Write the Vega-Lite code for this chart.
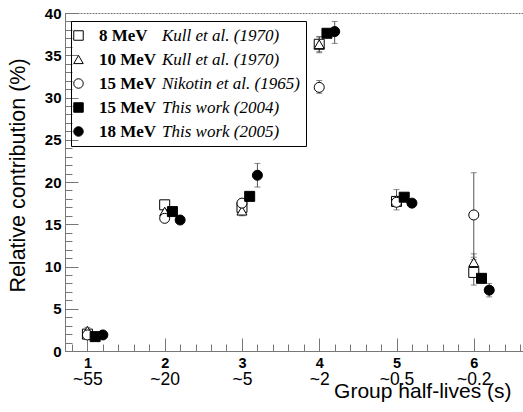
{
  "$schema": "https://vega.github.io/schema/vega-lite/v6.json",
  "width": 459,
  "height": 338,
  "autosize": {"type": "none"},
  "padding": {"left": 65, "top": 13, "right": 0, "bottom": 61},
  "background": "white",
  "view": {"stroke": "#777777", "strokeDash": [2, 1], "strokeWidth": 1},
  "config": {"font": "Liberation Sans", "axis": {"grid": false}},
  "data": {
    "values": [
      {"series": "8 MeV Kull et al. (1970)", "x": 1.0, "value": 2.0, "lo": 1.7, "hi": 2.3},
      {"series": "10 MeV Kull et al. (1970)", "x": 1.0, "value": 2.4, "lo": 2.0, "hi": 2.8},
      {"series": "15 MeV Nikotin et al. (1965)", "x": 1.0, "value": 1.9, "lo": 1.6, "hi": 2.2},
      {"series": "15 MeV This work (2004)", "x": 1.1, "value": 1.7, "lo": 1.5, "hi": 1.9},
      {"series": "18 MeV This work (2005)", "x": 1.2, "value": 1.9, "lo": 1.7, "hi": 2.1},

      {"series": "8 MeV Kull et al. (1970)", "x": 2.0, "value": 17.3, "lo": 16.9, "hi": 17.7},
      {"series": "10 MeV Kull et al. (1970)", "x": 2.0, "value": 16.5, "lo": 16.0, "hi": 17.0},
      {"series": "15 MeV Nikotin et al. (1965)", "x": 2.0, "value": 15.7, "lo": 15.3, "hi": 16.1},
      {"series": "15 MeV This work (2004)", "x": 2.1, "value": 16.5, "lo": 16.2, "hi": 16.8},
      {"series": "18 MeV This work (2005)", "x": 2.2, "value": 15.5, "lo": 15.2, "hi": 15.8},

      {"series": "8 MeV Kull et al. (1970)", "x": 3.0, "value": 17.0, "lo": 16.6, "hi": 17.4},
      {"series": "10 MeV Kull et al. (1970)", "x": 3.0, "value": 16.6, "lo": 16.0, "hi": 17.2},
      {"series": "15 MeV Nikotin et al. (1965)", "x": 3.0, "value": 17.5, "lo": 17.1, "hi": 17.9},
      {"series": "15 MeV This work (2004)", "x": 3.1, "value": 18.3, "lo": 18.0, "hi": 18.6},
      {"series": "18 MeV This work (2005)", "x": 3.2, "value": 20.8, "lo": 19.4, "hi": 22.2},

      {"series": "8 MeV Kull et al. (1970)", "x": 4.0, "value": 36.3, "lo": 35.4, "hi": 37.2},
      {"series": "10 MeV Kull et al. (1970)", "x": 4.0, "value": 36.3, "lo": 35.3, "hi": 37.2},
      {"series": "15 MeV Nikotin et al. (1965)", "x": 4.0, "value": 31.2, "lo": 30.5, "hi": 32.0},
      {"series": "15 MeV This work (2004)", "x": 4.1, "value": 37.6, "lo": 37.2, "hi": 38.0},
      {"series": "18 MeV This work (2005)", "x": 4.2, "value": 37.8, "lo": 36.4, "hi": 39.0},

      {"series": "8 MeV Kull et al. (1970)", "x": 5.0, "value": 17.7, "lo": 17.3, "hi": 18.1},
      {"series": "10 MeV Kull et al. (1970)", "x": 5.0, "value": 17.9, "lo": 16.7, "hi": 19.1},
      {"series": "15 MeV Nikotin et al. (1965)", "x": 5.0, "value": 17.6, "lo": 17.2, "hi": 18.0},
      {"series": "15 MeV This work (2004)", "x": 5.1, "value": 18.2, "lo": 17.9, "hi": 18.5},
      {"series": "18 MeV This work (2005)", "x": 5.2, "value": 17.5, "lo": 17.2, "hi": 17.8},

      {"series": "8 MeV Kull et al. (1970)", "x": 6.0, "value": 9.3, "lo": 7.8, "hi": 10.8},
      {"series": "10 MeV Kull et al. (1970)", "x": 6.0, "value": 10.5, "lo": 9.5, "hi": 11.5},
      {"series": "15 MeV Nikotin et al. (1965)", "x": 6.0, "value": 16.1, "lo": 11.1, "hi": 21.1},
      {"series": "15 MeV This work (2004)", "x": 6.1, "value": 8.6, "lo": 8.1, "hi": 9.1},
      {"series": "18 MeV This work (2005)", "x": 6.2, "value": 7.2, "lo": 6.4, "hi": 8.0}
    ]
  },
  "layer": [
    {
      "mark": {"type": "errorbar", "ticks": {"size": 6}, "color": "#555555", "thickness": 1},
      "encoding": {
        "x": {
          "field": "x", "type": "quantitative",
          "scale": {"domain": [0.71, 6.65], "nice": false, "zero": false},
          "axis": {
            "orient": "bottom",
            "values": [0.8, 1.0, 1.2, 1.4, 1.6, 1.8, 2.0, 2.2, 2.4, 2.6, 2.8, 3.0, 3.2, 3.4, 3.6, 3.8, 4.0, 4.2, 4.4, 4.6, 4.8, 5.0, 5.2, 5.4, 5.6, 5.8, 6.0, 6.2, 6.4, 6.6],
            "labels": false, "domain": false, "tickSize": -7, "tickColor": "#777777", "title": null
          }
        },
        "y": {
          "field": "lo", "type": "quantitative",
          "scale": {"domain": [0, 40], "nice": false, "zero": false},
          "axis": {
            "orient": "left",
            "values": [0, 1, 2, 3, 4, 5, 6, 7, 8, 9, 10, 11, 12, 13, 14, 15, 16, 17, 18, 19, 20, 21, 22, 23, 24, 25, 26, 27, 28, 29, 30, 31, 32, 33, 34, 35, 36, 37, 38, 39, 40],
            "labels": false, "domain": false, "tickSize": -7, "tickColor": "#777777", "title": null
          }
        },
        "y2": {"field": "hi"}
      }
    },
    {
      "mark": {"type": "point", "size": 100, "stroke": "black", "strokeWidth": 1, "opacity": 1},
      "encoding": {
        "x": {
          "field": "x", "type": "quantitative",
          "scale": {"domain": [0.71, 6.65], "nice": false, "zero": false},
          "axis": {
            "orient": "bottom", "values": [1, 2, 3, 4, 5, 6], "labels": false,
            "tickSize": -13, "tickColor": "#777777", "domainColor": "#777777", "title": null
          }
        },
        "y": {
          "field": "value", "type": "quantitative",
          "scale": {"domain": [0, 40], "nice": false, "zero": false},
          "axis": {
            "orient": "left", "values": [0, 5, 10, 15, 20, 25, 30, 35, 40], "labels": false,
            "tickSize": -13, "tickColor": "#777777", "domainColor": "#777777", "title": null
          }
        },
        "shape": {
          "field": "series", "type": "nominal",
          "scale": {
            "domain": ["8 MeV Kull et al. (1970)", "10 MeV Kull et al. (1970)", "15 MeV Nikotin et al. (1965)", "15 MeV This work (2004)", "18 MeV This work (2005)"],
            "range": ["square", "triangle-up", "circle", "square", "circle"]
          },
          "legend": {
            "orient": "none", "legendX": 5, "legendY": 14, "title": null,
            "values": ["8 MeV Kull et al. (1970)", "10 MeV Kull et al. (1970)", "15 MeV Nikotin et al. (1965)", "15 MeV This work (2004)", "18 MeV This work (2005)"],
            "labelExpr": "slice(datum.value, 0, indexof(datum.value, 'MeV') + 3)",
            "labelFont": "Liberation Serif", "labelFontSize": 17, "labelFontWeight": "bold", "labelColor": "black",
            "labelOffset": 12, "padding": 0, "rowPadding": 6, "symbolSize": 90, "symbolStrokeWidth": 1,
            "labelLimit": 300
          }
        },
        "fill": {
          "field": "series", "type": "nominal",
          "scale": {
            "domain": ["8 MeV Kull et al. (1970)", "10 MeV Kull et al. (1970)", "15 MeV Nikotin et al. (1965)", "15 MeV This work (2004)", "18 MeV This work (2005)"],
            "range": ["white", "white", "white", "black", "black"]
          },
          "legend": {
            "orient": "none", "legendX": 5, "legendY": 14, "title": null,
            "values": ["8 MeV Kull et al. (1970)", "10 MeV Kull et al. (1970)", "15 MeV Nikotin et al. (1965)", "15 MeV This work (2004)", "18 MeV This work (2005)"],
            "labelExpr": "slice(datum.value, 0, indexof(datum.value, 'MeV') + 3)",
            "labelFont": "Liberation Serif", "labelFontSize": 17, "labelFontWeight": "bold", "labelColor": "black",
            "labelOffset": 12, "padding": 0, "rowPadding": 6, "symbolSize": 90, "symbolStrokeWidth": 1,
            "labelLimit": 300
          }
        },
        "stroke": {
          "field": "series", "type": "nominal",
          "scale": {
            "domain": ["8 MeV Kull et al. (1970)", "10 MeV Kull et al. (1970)", "15 MeV Nikotin et al. (1965)", "15 MeV This work (2004)", "18 MeV This work (2005)"],
            "range": ["black", "black", "black", "black", "black"]
          },
          "legend": {
            "orient": "none", "legendX": 5, "legendY": 14, "title": null,
            "values": ["8 MeV Kull et al. (1970)", "10 MeV Kull et al. (1970)", "15 MeV Nikotin et al. (1965)", "15 MeV This work (2004)", "18 MeV This work (2005)"],
            "labelExpr": "slice(datum.value, 0, indexof(datum.value, 'MeV') + 3)",
            "labelFont": "Liberation Serif", "labelFontSize": 17, "labelFontWeight": "bold", "labelColor": "black",
            "labelOffset": 12, "padding": 0, "rowPadding": 6, "symbolSize": 90, "symbolStrokeWidth": 1,
            "labelLimit": 300
          }
        }
      }
    },
    {
      "mark": {"type": "point", "size": 100, "opacity": 0},
      "encoding": {
        "x": {
          "field": "x", "type": "quantitative",
          "scale": {"domain": [0.71, 6.65], "nice": false, "zero": false},
          "axis": {
            "orient": "bottom", "values": [1, 2, 3, 4, 5, 6], "format": "d",
            "labelFont": "Liberation Sans", "labelFontSize": 14.5, "labelFontWeight": "bold", "labelColor": "black",
            "labelPadding": 5, "labelFlush": false, "labelOverlap": false,
            "ticks": false, "domain": false, "title": null
          }
        },
        "y": {
          "field": "value", "type": "quantitative",
          "scale": {"domain": [0, 40], "nice": false, "zero": false},
          "axis": {
            "orient": "left", "values": [0, 5, 10, 15, 20, 25, 30, 35, 40],
            "labelFont": "Liberation Sans", "labelFontSize": 15, "labelFontWeight": "bold", "labelColor": "black",
            "labelPadding": 4, "labelFlush": false, "labelOverlap": false,
            "ticks": false, "domain": false,
            "title": "Relative contribution (%)", "titleFont": "Liberation Sans", "titleFontSize": 21.5,
            "titleFontWeight": "normal", "titleColor": "black",
            "titleX": -47, "titleY": 162, "titleBaseline": "middle", "titleAlign": "center", "titleAngle": 270
          }
        },
        "shape": {
          "field": "series", "type": "nominal",
          "legend": {
            "orient": "none", "legendX": 6, "legendY": 8, "title": null,
            "values": ["8 MeV Kull et al. (1970)", "10 MeV Kull et al. (1970)", "15 MeV Nikotin et al. (1965)", "15 MeV This work (2004)", "18 MeV This work (2005)"],
            "labelExpr": "slice(datum.value, indexof(datum.value, 'MeV ') + 4)",
            "labelFont": "Liberation Serif", "labelFontSize": 17, "labelFontStyle": "italic", "labelColor": "black",
            "labelOffset": 68, "padding": 6, "rowPadding": 6, "symbolSize": 90, "symbolOpacity": 0,
            "symbolStrokeWidth": 0, "strokeColor": "black", "labelLimit": 400
          }
        }
      }
    },
    {
      "mark": {"type": "point", "size": 100, "opacity": 0},
      "encoding": {
        "x": {
          "field": "x", "type": "quantitative",
          "scale": {"domain": [0.71, 6.65], "nice": false, "zero": false},
          "axis": {
            "orient": "bottom", "values": [1, 2, 3, 4, 5, 6],
            "labelExpr": "datum.value == 1 ? '~55' : datum.value == 2 ? '~20' : datum.value == 3 ? '~5' : datum.value == 4 ? '~2' : datum.value == 5 ? '~0.5' : '~0.2'",
            "labelFont": "Liberation Sans", "labelFontSize": 17.5, "labelColor": "black",
            "labelPadding": 19, "labelFlush": false, "labelOverlap": false,
            "ticks": false, "domain": false,
            "title": "Group half-lives (s)", "titleFont": "Liberation Sans", "titleFontSize": 21,
            "titleFontWeight": "normal", "titleColor": "black",
            "titleX": 446, "titleY": 46.5, "titleAlign": "right", "titleBaseline": "alphabetic"
          }
        },
        "y": {
          "field": "value", "type": "quantitative",
          "scale": {"domain": [0, 40], "nice": false, "zero": false},
          "axis": null
        }
      }
    }
  ],
  "resolve": {
    "scale": {"shape": "independent", "fill": "independent", "stroke": "independent"},
    "axis": {"x": "independent", "y": "independent"},
    "legend": {"shape": "independent", "fill": "independent", "stroke": "independent"}
  }
}
